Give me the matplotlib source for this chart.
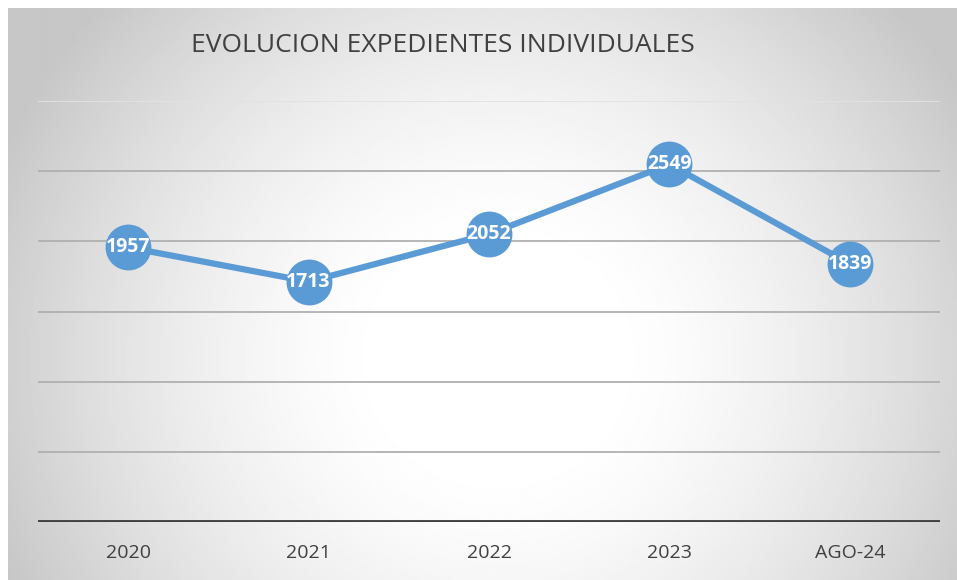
import matplotlib.pyplot as plt
import numpy as np

# data
years = ['2020', '2021', '2022', '2023', 'AGO-24']
expedientes = [1957, 1713, 2052, 2549, 1839]
y_ticks = [0, 500, 1000, 1500, 2000, 2500, 3000]

fig = plt.figure(figsize=(9.57, 5.80), dpi=100)
fig.patch.set_facecolor('white')

# radial grey background of the chart area
bg = fig.add_axes([8 / 957, 0, 949 / 957, 572 / 580])
gx, gy = np.meshgrid(np.linspace(0, 949, 475), np.linspace(0, 572, 286))
r = np.sqrt(((gx - 490) / 540) ** 2 + ((gy - 350) / 520) ** 2)
t = np.clip((r - 0.2) / 0.8, 0, 1)
shade = 1 - 0.22 * t ** 1.5
bg.imshow(shade, cmap='gray', vmin=0, vmax=1, aspect='auto', origin='upper')
bg.set_axis_off()

ax = fig.add_axes([38 / 957, 58 / 580, 902 / 957, 421 / 580])
ax.set_facecolor('none')

for tk in y_ticks[1:]:
    ax.axhline(tk, color='#e2e2e2' if tk == y_ticks[-1] else '#b0b0b0', lw=1.3, zorder=1)
ax.axhline(0, color='#404040', lw=3.5, zorder=2)

x = np.arange(len(years))
ax.plot(x, expedientes, color='#5b9bd5', lw=4.5, marker='o', markersize=32,
        markerfacecolor='#5b9bd5', markeredgecolor='#5b9bd5', zorder=3)
for xi, v in zip(x, expedientes):
    ax.text(xi, v, str(v), ha='center', va='center', color='white',
            fontsize=14, fontweight='bold', family='Open Sans', zorder=4)

ax.set_xlim(-0.5, len(years) - 0.5)
ax.set_ylim(0, 3000)
ax.set_xticks(x)
ax.set_xticklabels(years, fontsize=14, color='#404040', family='Open Sans')
ax.tick_params(axis='x', length=0, pad=16)
ax.set_yticks([])
for s in ax.spines.values():
    s.set_visible(False)

fig.text(443 / 957, 1 - 45 / 580, 'EVOLUCION EXPEDIENTES INDIVIDUALES', ha='center', va='center',
         fontsize=19, color='#404040', family='Open Sans')

fig.savefig('out.png', dpi=100)
